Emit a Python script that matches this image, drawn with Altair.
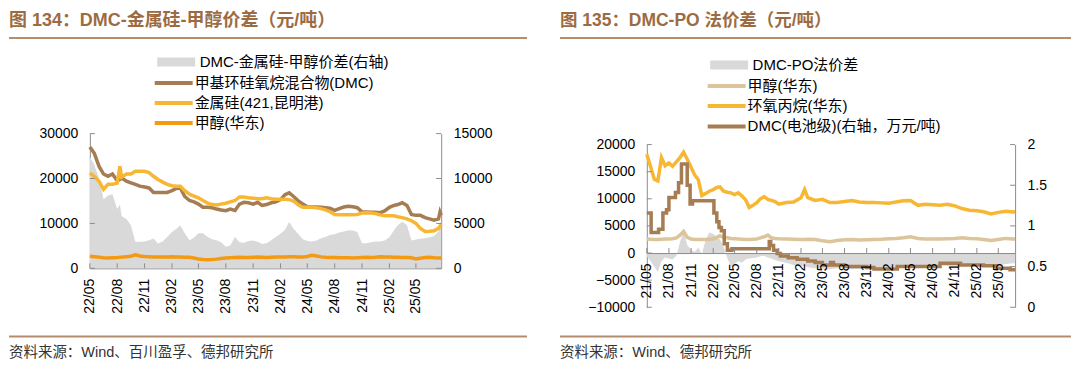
import altair as alt
import pandas as pd

# ---------------- 图134 data ----------------
left_dates = [
    "2022-05-01", "2022-05-16", "2022-06-01", "2022-06-16", "2022-07-01", "2022-07-16",
    "2022-08-01", "2022-08-10", "2022-08-16", "2022-09-01", "2022-09-16", "2022-10-01",
    "2022-10-16", "2022-11-01", "2022-11-16", "2022-12-01", "2022-12-16", "2023-01-01",
    "2023-01-16", "2023-02-01", "2023-02-16", "2023-03-01", "2023-03-16", "2023-04-01",
    "2023-04-16", "2023-05-01", "2023-05-16", "2023-06-01", "2023-06-16", "2023-07-01",
    "2023-07-16", "2023-08-01", "2023-08-16", "2023-09-01", "2023-09-16", "2023-10-01",
    "2023-10-16", "2023-11-01", "2023-11-16", "2023-12-01", "2023-12-16", "2024-01-01",
    "2024-01-16", "2024-02-01", "2024-02-16", "2024-03-01", "2024-03-16", "2024-04-01",
    "2024-04-16", "2024-05-01", "2024-05-16", "2024-06-01", "2024-06-16", "2024-07-01",
    "2024-07-16", "2024-08-01", "2024-08-16", "2024-09-01", "2024-09-16", "2024-10-01",
    "2024-10-16", "2024-11-01", "2024-11-16", "2024-12-01", "2024-12-16", "2025-01-01",
    "2025-01-16", "2025-02-01", "2025-02-16", "2025-03-01", "2025-03-16", "2025-04-01",
    "2025-04-16", "2025-05-01", "2025-05-16", "2025-06-01", "2025-06-16", "2025-07-01",
    "2025-07-16", "2025-07-21", "2025-07-25",
]
left_spread = [
    12450, 11500, 10000, 7700, 8100, 8250, 6600, 7100, 5800, 5500, 4800, 2950,
    2950, 3000, 3140, 3320, 2770, 3000, 3500, 4050, 4400, 4780, 3900, 3140,
    3400, 3900, 3900, 3500, 3250, 3140, 2900, 2400, 2550, 3500, 2900, 2850,
    3050, 3100, 2950, 2700, 2800, 3140, 3500, 3850, 4300, 5150, 4400, 3800,
    3250, 3050, 2990, 3100, 3350, 3500, 3700, 3800, 4000, 4100, 4250, 4200,
    4050, 2800, 2800, 2900, 3000, 3000, 3100, 3500, 4200, 4800, 5200, 4800,
    3100, 3200, 3300, 3360, 3450, 3600, 4100, 4500, 4700,
]
left_dmc = [
    27000, 25600, 22700, 21000, 20500, 21000, 19500, 19800, 20100, 19400, 19050, 18700,
    18300, 18100, 17900, 16900, 16860, 16860, 16900, 17300, 17800, 17900, 16000, 15100,
    14800, 14300, 13600, 13600, 13500, 13200, 13000, 12850, 13200, 12900, 14300, 14700,
    14600, 14300, 14700, 14000, 14200, 14600, 14800, 15300, 16400, 16800, 16000, 15000,
    14300, 13700, 13650, 13650, 13600, 13500, 13400, 12900, 13300, 13650, 13800, 13700,
    13500, 12600, 12550, 12500, 12500, 12400, 12800, 13600, 14000, 14200, 14600, 14000,
    12000, 11800, 11800, 11300, 11000, 10700, 11000, 12500, 11800,
]
left_si = [
    21200, 20500, 19400, 17600, 18700, 18700, 19000, 22700, 20300, 21000, 21000, 21600,
    21600, 21600, 21300, 20500, 19800, 19200, 18700, 18400, 18300, 18300, 17300, 16500,
    16100, 15700, 15100, 14500, 14200, 14100, 14300, 14500, 14800, 15100, 15900, 15900,
    15700, 15600, 15500, 15500, 15700, 15500, 15400, 15400, 15400, 15300, 15000, 14100,
    13600, 13600, 13600, 13500, 13300, 13000, 12600, 12000, 11950, 11950, 11950, 11950,
    12000, 12300, 12400, 12300, 12200, 11900, 11700, 11700, 11700, 11500, 11300, 11000,
    10600, 10000, 8900, 8200, 8250, 8350, 8900, 9400, 9800,
]
left_meoh = [
    2700, 2600, 2500, 2350, 2300, 2350, 2400, 2450, 2500, 2600, 2700, 3000,
    2750, 2650, 2600, 2550, 2500, 2500, 2550, 2600, 2550, 2500, 2450, 2450,
    2300, 2100, 1950, 1900, 1950, 2050, 2200, 2300, 2350, 2400, 2450, 2400,
    2400, 2450, 2500, 2450, 2400, 2450, 2500, 2500, 2550, 2600, 2600, 2550,
    2500, 2650, 2900, 2750, 2550, 2450, 2400, 2400, 2350, 2350, 2350, 2300,
    2350, 2400, 2450, 2400, 2450, 2600, 2550, 2500, 2450, 2450, 2400, 2400,
    2350, 2100, 2250, 2400, 2450, 2350, 2300, 2300, 2300,
]
left_ticks = [
    "2022-05-01", "2022-08-01", "2022-11-01", "2023-02-01", "2023-05-01", "2023-08-01",
    "2023-11-01", "2024-02-01", "2024-05-01", "2024-08-01", "2024-11-01", "2025-02-01",
    "2025-05-01",
]
left_domain = ["2022-05-01", "2025-07-25"]
left_y_ticks = [0, 10000, 20000, 30000]
left_y2_ticks = [0, 5000, 10000, 15000]
left_area_name = "DMC-金属硅-甲醇价差(右轴)"
left_line_names = ["甲基环硅氧烷混合物(DMC)", "金属硅(421,昆明港)", "甲醇(华东)"]
left_title = "图 134：DMC-金属硅-甲醇价差（元/吨）"
left_source = "资料来源：Wind、百川盈孚、德邦研究所"

# ---------------- 图135 data ----------------
right_dates = [
    "2021-05-01", "2021-05-16", "2021-06-01", "2021-06-16", "2021-07-01", "2021-07-16",
    "2021-08-01", "2021-08-16", "2021-09-01", "2021-09-16", "2021-10-01", "2021-10-16",
    "2021-11-01", "2021-11-16", "2021-12-01", "2021-12-16", "2022-01-01", "2022-01-16",
    "2022-02-01", "2022-02-16", "2022-03-01", "2022-03-16", "2022-04-01", "2022-04-16",
    "2022-05-01", "2022-05-16", "2022-06-01", "2022-06-16", "2022-07-01", "2022-07-16",
    "2022-08-01", "2022-08-16", "2022-09-01", "2022-09-16", "2022-10-01", "2022-10-16",
    "2022-11-01", "2022-12-01", "2023-01-01", "2023-02-01", "2023-02-16", "2023-03-01",
    "2023-04-01", "2023-05-01", "2023-06-01", "2023-07-01", "2023-08-01", "2023-09-01",
    "2023-10-01", "2023-11-01", "2023-12-01", "2024-01-01", "2024-02-01", "2024-03-01",
    "2024-04-01", "2024-05-01", "2024-06-01", "2024-07-01", "2024-08-01", "2024-09-01",
    "2024-10-01", "2024-11-01", "2024-12-01", "2025-01-01", "2025-02-01", "2025-03-01",
    "2025-04-01", "2025-05-01", "2025-06-01", "2025-07-01", "2025-07-10",
]
right_spread = [
    -600, -1500, -2500, -3500, -1500, -800, -1000, -1200, -500, 2000, 4000, 1500,
    600, 200, 1000, -200, 2500, 3800, 3500, 3000, 2500, 1200, -1000, -2500,
    -2000, -1500, -1800, -1200, -1000, -900, -800, -600, -500, -800, -1000, -1300,
    -1500, -1800, -2200, -2500, -2400, -2600, -2800, -3000, -3000, -2800, -2700, -3000,
    -2900, -3000, -2900, -2800, -2700, -2500, -2600, -2300, -2400, -2600, -2500, -2300,
    -2400, -2500, -2400, -2300, -2200, -2100, -2300, -2400, -2000, -1900, -1900,
]
right_meoh = [
    2600, 2550, 2500, 2500, 2550, 2600, 2600, 2650, 2800, 3300, 4000, 2900,
    2600, 2500, 2500, 2500, 2500, 2550, 2600, 2900, 3200, 2900, 2800, 2700,
    2650, 2600, 2550, 2500, 2500, 2550, 2600, 2800, 3000, 3300, 2800, 2700,
    2650, 2600, 2550, 2500, 2500, 2550, 2500, 2250, 2100, 2300, 2450, 2500,
    2400, 2450, 2500, 2550, 2650, 2700, 2800, 3000, 2700, 2600, 2600, 2600,
    2650, 2700, 2800, 2700, 2650, 2500, 2300, 2500, 2700, 2600, 2600,
]
right_po = [
    18200, 16000, 13600, 13300, 17600, 16100, 16600, 16000, 16800, 17600, 18600, 17300,
    15800, 14400, 13500, 10600, 11000, 11400, 11700, 12100, 12200, 11400, 11200, 11100,
    10800, 11100, 10500, 9800, 8400, 8800, 9300, 10000, 10400, 9900, 9700, 9500,
    9000, 9300, 9400, 10200, 11700, 10200, 9700, 9900, 9300, 9300, 9500, 9700,
    9400, 9300, 9300, 9250, 9200, 9400, 9650, 9700, 8800, 9000, 8900, 8800,
    9000, 8700, 8200, 7900, 7800, 7600, 7200, 7500, 7700, 7550, 7600,
]
batt_dates = [
    "2021-05-01", "2021-05-19", "2021-06-19", "2021-07-07", "2021-07-22", "2021-08-01",
    "2021-08-28", "2021-09-10", "2021-09-22", "2021-10-16", "2021-10-28", "2021-11-07",
    "2022-02-04", "2022-02-16", "2022-02-25", "2022-03-07", "2022-03-19", "2022-04-01",
    "2022-04-20", "2022-09-22", "2022-09-28", "2022-10-10", "2022-10-25", "2022-11-07",
    "2022-12-10", "2023-01-16", "2023-03-01", "2023-04-01", "2023-05-01", "2023-06-04",
    "2023-06-16", "2023-08-01", "2023-11-01", "2023-12-01", "2024-03-07", "2024-09-01",
    "2024-11-25", "2025-03-01", "2025-04-22", "2025-06-19", "2025-07-10",
]
batt_values = [
    1.16, 0.92, 0.96, 1.16, 1.20, 1.35,
    1.41, 1.53, 1.76, 1.50, 1.27, 1.31,
    1.16, 1.05, 0.98, 0.94, 0.78, 0.70,
    0.72, 0.81, 0.76, 0.70, 0.66, 0.63,
    0.61, 0.59, 0.57, 0.55, 0.52, 0.55,
    0.52, 0.50, 0.49, 0.47, 0.50, 0.54,
    0.52, 0.51, 0.48, 0.46, 0.46,
]
right_ticks = [
    "2021-05-01", "2021-08-01", "2021-11-01", "2022-02-01", "2022-05-01", "2022-08-01",
    "2022-11-01", "2023-02-01", "2023-05-01", "2023-08-01", "2023-11-01", "2024-02-01",
    "2024-05-01", "2024-08-01", "2024-11-01", "2025-02-01", "2025-05-01",
]
right_domain = ["2021-05-01", "2025-07-10"]
right_y_ticks = [-10000, -5000, 0, 5000, 10000, 15000, 20000]
right_y2_ticks = [0, 0.5, 1, 1.5, 2]
right_area_name = "DMC-PO法价差"
right_line_names = ["甲醇(华东)", "环氧丙烷(华东)"]
right_batt_name = "DMC(电池级)(右轴，万元/吨)"
right_title = "图 135：DMC-PO 法价差（元/吨）"
right_source = "资料来源：Wind、德邦研究所"

# ---------------- styling ----------------
FONT = "Liberation Sans, Arial, Noto Sans CJK SC, sans-serif"
AX = "#8C8C8C"
GRAY = "#D9D9D9"
BROWN = "#A67C52"
YELLOW = "#F7B733"
ORANGE = "#F39A12"
TAN = "#DCC59B"
TITLE_C = "#9C6B42"
RULE_C = "#B38D6D"
TICK = 5

# both panels share the plot origin row; the left plot starts 11px higher
W1, H1, TOP1 = 352, 124, -11
W2, H2 = 369, 163
RANGE1 = [H1, TOP1]
ZERO2 = H2 * 2 / 3


def dt(s):
    y, m, d = (int(v) for v in s.split("-"))
    return alt.DateTime(year=y, month=m, date=d)


def local(dates):
    return [d.replace("-", "/") for d in dates]


def x_enc(ticks, domain, offset=0, z=0):
    return alt.X(
        "date:T",
        title=None,
        scale=alt.Scale(domain=[dt(domain[0]), dt(domain[1])]),
        axis=alt.Axis(
            values=[dt(t) for t in ticks], format="%y/%m", labelAngle=270,
            labelAlign="right", labelBaseline="middle", labelFlush=False,
            labelOverlap=False, ticks=False, labelPadding=10, offset=offset,
            domainColor=AX, grid=False, zindex=z,
        ),
    )


def y_axis(orient, values, fmt):
    return alt.Axis(orient=orient, values=values, format=fmt, ticks=False,
                    labelPadding=12, domainColor=AX, grid=False)


def legend(x, y, width, stroke=None):
    kw = dict(orient="none", legendX=x, legendY=y, title=None, symbolType="stroke",
              symbolSize=1444, symbolStrokeWidth=width, clipHeight=20, rowPadding=0,
              labelOffset=0, labelFontSize=15, labelFont=FONT, labelColor="#000",
              labelLimit=400)
    if stroke:
        kw["symbolStrokeColor"] = stroke
    return alt.Legend(**kw)


def deco_text(txt, x, y, size, weight, color):
    return alt.Chart(alt.Data(values=[{}])).mark_text(
        text=txt, align="left", baseline="middle", fontSize=size,
        fontWeight=weight, color=color, font=FONT,
    ).encode(x=alt.value(x), y=alt.value(y))


def deco_rule(x1, x2, y):
    return alt.Chart(alt.Data(values=[{}])).mark_rule(
        color=RULE_C, strokeWidth=2
    ).encode(x=alt.value(x1), x2=alt.value(x2), y=alt.value(y), y2=alt.value(y))


def x_ticks(ticks, xenc, base):
    df = pd.DataFrame({"date": local(ticks)})
    return alt.Chart(df).mark_rule(color=AX, strokeWidth=1).encode(
        x=xenc, y=alt.value(base), y2=alt.value(base - TICK))


def y_ticks(values, domain, rng, x0, x1):
    df = pd.DataFrame({"v": values})
    scale = alt.Scale(domain=domain, nice=False, range=rng) if rng else alt.Scale(domain=domain, nice=False)
    return alt.Chart(df).mark_rule(color=AX, strokeWidth=1).encode(
        y=alt.Y("v:Q", scale=scale, axis=None), x=alt.value(x0), x2=alt.value(x1))


# ---------------- left panel ----------------
ld = local(left_dates)
left_area_df = pd.DataFrame({"date": ld, "value": left_spread, "series": left_area_name})
left_line_df = pd.concat([
    pd.DataFrame({"date": ld, "value": vals, "series": name})
    for name, vals in zip(left_line_names, [left_dmc, left_si, left_meoh])
])

xL = x_enc(left_ticks, left_domain)
left_area = alt.Chart(left_area_df).mark_area(opacity=1).encode(
    x=xL,
    y=alt.Y("value:Q", title=None, scale=alt.Scale(domain=[0, 15000], nice=False, range=RANGE1),
            axis=y_axis("right", left_y2_ticks, "d")),
    color=alt.Color("series:N", scale=alt.Scale(domain=[left_area_name], range=[GRAY]),
                    legend=legend(63, -92.7, 9, GRAY)),
)
left_lines = alt.Chart(left_line_df).mark_line(strokeWidth=3.5).encode(
    x=xL,
    y=alt.Y("value:Q", title=None, scale=alt.Scale(domain=[0, 30000], nice=False, range=RANGE1),
            axis=y_axis("left", left_y_ticks, "d")),
    color=alt.Color("series:N", scale=alt.Scale(domain=left_line_names, range=[BROWN, YELLOW, ORANGE]),
                    legend=legend(63, -71.7, 4)),
)
left_panel = alt.layer(
    left_area, left_lines,
    x_ticks(left_ticks, xL, H1),
    y_ticks(left_y_ticks, [0, 30000], RANGE1, 0, TICK),
    y_ticks(left_y2_ticks, [0, 15000], RANGE1, W1, W1 - TICK),
    deco_text(left_title, -81, -124.2, 18, "bold", TITLE_C),
    deco_rule(-81, 438, -106.7),
    deco_rule(-81, 438, 192.3),
    deco_text(left_source, -81, 209.3, 14.5, "normal", "#333333"),
).resolve_scale(y="independent", color="independent").properties(width=W1, height=H1)

# ---------------- right panel ----------------
rd = local(right_dates)
right_area_df = pd.DataFrame({"date": rd, "value": right_spread, "series": right_area_name})
right_line_df = pd.concat([
    pd.DataFrame({"date": rd, "value": vals, "series": name})
    for name, vals in zip(right_line_names, [right_meoh, right_po])
])
batt_df = pd.DataFrame({"date": local(batt_dates), "value": batt_values, "series": right_batt_name})

xR = x_enc(right_ticks, right_domain, offset=-(H2 - ZERO2), z=1)
right_area = alt.Chart(right_area_df).mark_area(opacity=1).encode(
    x=xR,
    y=alt.Y("value:Q", title=None, scale=alt.Scale(domain=[-10000, 20000], nice=False),
            axis=y_axis("left", right_y_ticks, "d")),
    color=alt.Color("series:N", scale=alt.Scale(domain=[right_area_name], range=[GRAY]),
                    legend=legend(59, -89.7, 9, GRAY)),
)
right_lines = alt.Chart(right_line_df).mark_line(strokeWidth=3.5).encode(
    x=xR,
    y=alt.Y("value:Q", title=None, scale=alt.Scale(domain=[-10000, 20000], nice=False), axis=None),
    color=alt.Color("series:N", scale=alt.Scale(domain=right_line_names, range=[TAN, YELLOW]),
                    legend=legend(59, -68.7, 4)),
)
right_batt = alt.Chart(batt_df).mark_line(strokeWidth=3.5, interpolate="step-after").encode(
    x=xR,
    y=alt.Y("value:Q", title=None, scale=alt.Scale(domain=[0, 2], nice=False),
            axis=y_axis("right", right_y2_ticks, "~g")),
    color=alt.Color("series:N", scale=alt.Scale(domain=[right_batt_name], range=[BROWN]),
                    legend=legend(59, -28.2, 4)),
)
right_panel = alt.layer(
    right_area, right_lines, right_batt,
    x_ticks(right_ticks, xR, ZERO2),
    y_ticks(right_y_ticks, [-10000, 20000], None, 0, TICK),
    y_ticks(right_y2_ticks, [0, 2], None, W2, W2 - TICK),
    deco_text(right_title, -87, -124.2, 17.5, "bold", TITLE_C),
    deco_rule(-87, 425, -106.7),
    deco_rule(-87, 425, 192.3),
    deco_text(right_source, -87, 209.3, 14.5, "normal", "#333333"),
).resolve_scale(y="independent", color="independent").properties(width=W2, height=H2)

chart = alt.concat(left_panel, right_panel, columns=2, align="none", spacing=31).properties(
    padding={"left": 0, "top": 2.5, "right": 0, "bottom": 0}
).configure_view(stroke=None).configure_axis(
    labelFont=FONT, labelFontSize=14, labelColor="#000000"
)

chart.save("out.html", embed_options={"renderer": "svg", "actions": False})
